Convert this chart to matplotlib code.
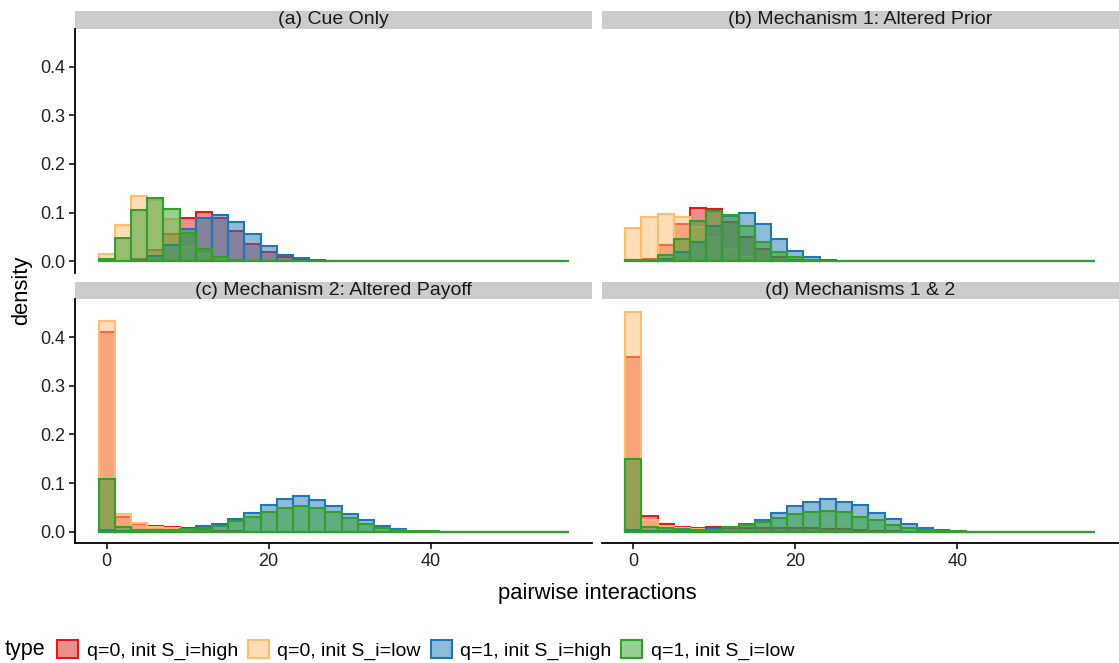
import matplotlib
matplotlib.use("Agg")
import matplotlib.pyplot as plt
from matplotlib.patches import Rectangle, Patch
import numpy as np

plt.rcParams['font.family'] = ['Liberation Sans', 'DejaVu Sans']

# bin centres (binwidth 2), values are densities
centers = np.arange(0, 57, 2)

# (a) Cue Only
a_q0_high = [0, 0.001, 0.005, 0.024, 0.057, 0.09, 0.102, 0.09, 0.063, 0.036, 0.019, 0.008, 0.003, 0.001]
a_q0_low = [0.015, 0.074, 0.135, 0.125, 0.086, 0.03, 0.015, 0.005, 0.001]
a_q1_high = [0, 0, 0.002, 0.012, 0.034, 0.067, 0.09, 0.096, 0.081, 0.057, 0.031, 0.014, 0.006, 0.002]
a_q1_low = [0.005, 0.047, 0.105, 0.131, 0.107, 0.059, 0.026, 0.009, 0.002]

# (b) Mechanism 1: Altered Prior
b_q0_high = [0.002, 0.005, 0.033, 0.077, 0.109, 0.107, 0.08, 0.05, 0.025, 0.01, 0.002]
b_q0_low = [0.069, 0.092, 0.097, 0.092, 0.07, 0.05, 0.025, 0.01, 0.002]
b_q1_high = [0, 0.001, 0.005, 0.02, 0.039, 0.073, 0.094, 0.099, 0.077, 0.046, 0.022, 0.01, 0.003, 0.001]
b_q1_low = [0.002, 0.003, 0.014, 0.046, 0.082, 0.104, 0.096, 0.072, 0.04, 0.019, 0.008, 0.002]

# (c) Mechanism 2: Altered Payoff
c_q0_high = [0.41, 0.03, 0.017, 0.013, 0.01, 0.008, 0.004, 0.002, 0.001]
c_q0_low = [0.433, 0.036, 0.018, 0.01, 0.007, 0.004, 0.002]
c_q1_high = [0.004, 0.001, 0.001, 0.002, 0.003, 0.006, 0.012, 0.017, 0.027, 0.038, 0.055, 0.068,
             0.073, 0.066, 0.054, 0.037, 0.024, 0.012, 0.006, 0.002, 0.001]
c_q1_low = [0.108, 0.01, 0.004, 0.003, 0.003, 0.005, 0.008, 0.012, 0.022, 0.031, 0.041, 0.05,
            0.054, 0.05, 0.04, 0.029, 0.017, 0.008, 0.004, 0.002, 0.001]

# (d) Mechanisms 1 & 2
d_q0_high = [0.359, 0.033, 0.017, 0.011, 0.009, 0.0097, 0.008, 0.008, 0.008, 0.008, 0.008, 0.008,
             0.006, 0.005, 0.004, 0.002, 0.001]
d_q0_low = [0.452, 0.025, 0.012, 0.007, 0.005, 0.003, 0.002, 0.001]
d_q1_high = [0.004, 0.001, 0.001, 0.002, 0.003, 0.006, 0.011, 0.017, 0.025, 0.038, 0.054, 0.061,
             0.067, 0.062, 0.055, 0.039, 0.027, 0.017, 0.008, 0.004, 0.001]
d_q1_low = [0.15, 0.01, 0.007, 0.005, 0.004, 0.004, 0.0097, 0.014, 0.021, 0.029, 0.037, 0.041,
            0.043, 0.04, 0.031, 0.024, 0.015, 0.008, 0.0035, 0.002, 0.001]

titles = ["(a) Cue Only", "(b) Mechanism 1: Altered Prior",
          "(c) Mechanism 2: Altered Payoff", "(d) Mechanisms 1 & 2"]
labels = ["q=0, init S_i=high", "q=0, init S_i=low", "q=1, init S_i=high", "q=1, init S_i=low"]
colors = ["#E31A1C", "#FDBF6F", "#1F78B4", "#33A02C"]

panels = [
    [a_q0_high, a_q0_low, a_q1_high, a_q1_low],
    [b_q0_high, b_q0_low, b_q1_high, b_q1_low],
    [c_q0_high, c_q0_low, c_q1_high, c_q1_low],
    [d_q0_high, d_q0_low, d_q1_high, d_q1_low],
]

W, H = 1119, 663
fig = plt.figure(figsize=(W / 100, H / 100), dpi=100)

xs = [75, 601.7]
ys = [28.5, 299]
pw, ph = 517, 244
strip_h = 17

def pad(v):
    return np.array(list(v) + [0] * (len(centers) - len(v)))

axes = []
for i in range(4):
    col, row = i % 2, i // 2
    ax = fig.add_axes([xs[col] / W, 1 - (ys[row] + ph) / H, pw / W, ph / H])
    for vals, c in zip(panels[i], colors):
        ax.bar(centers, pad(vals), width=2, color=matplotlib.colors.to_rgba(c, 0.5),
               edgecolor=c, linewidth=1.5)
    ax.set_xlim(-3.9, 59.9)
    ax.set_ylim(-0.0228, 0.478)
    for s in ["top", "right"]:
        ax.spines[s].set_visible(False)
    ax.spines["left"].set_linewidth(1.3)
    ax.spines["bottom"].set_linewidth(1.3)
    ax.set_yticks([0, 0.1, 0.2, 0.3, 0.4])
    ax.set_yticklabels(["0.0", "0.1", "0.2", "0.3", "0.4"])
    ax.set_xticks([0, 20, 40])
    ax.tick_params(length=4, width=1.1, labelsize=13, pad=3, colors="black", labelcolor="#222222")
    if col == 1:
        ax.spines["left"].set_visible(False)
        ax.tick_params(axis="y", left=False, labelleft=False)
    if row == 0:
        ax.spines["bottom"].set_visible(False)
        ax.tick_params(axis="x", bottom=False, labelbottom=False)
    # facet strip
    sh = strip_h / ph
    ax.add_patch(Rectangle((0, 1), 1, sh, transform=ax.transAxes, clip_on=False,
                           facecolor="#CCCCCC", edgecolor="none"))
    ax.text(0.5, 1 + sh / 2, titles[i], transform=ax.transAxes, ha="center", va="center",
            fontsize=14, color="#1a1a1a")
    axes.append(ax)

fig.text(22 / W, 1 - 290 / H, "density", rotation=90, ha="center", va="center", fontsize=15.8)
fig.text(597 / W, 1 - 594 / H, "pairwise interactions", ha="center", va="center", fontsize=15.8)

handles = [Patch(facecolor=matplotlib.colors.to_rgba(c, 0.5), edgecolor=c, linewidth=1.5)
           for c in colors]
fig.text(5 / W, 1 - 650 / H, "type", ha="left", va="center", fontsize=15.5)
fig.legend(handles, labels, ncol=4, loc="center left", bbox_to_anchor=(57 / W, 1 - 650 / H),
           frameon=False, fontsize=14, handlelength=1.08, handleheight=1.08,
           handletextpad=0.45, columnspacing=0.5, borderpad=0, borderaxespad=0)

fig.savefig("out.png", dpi=100)
